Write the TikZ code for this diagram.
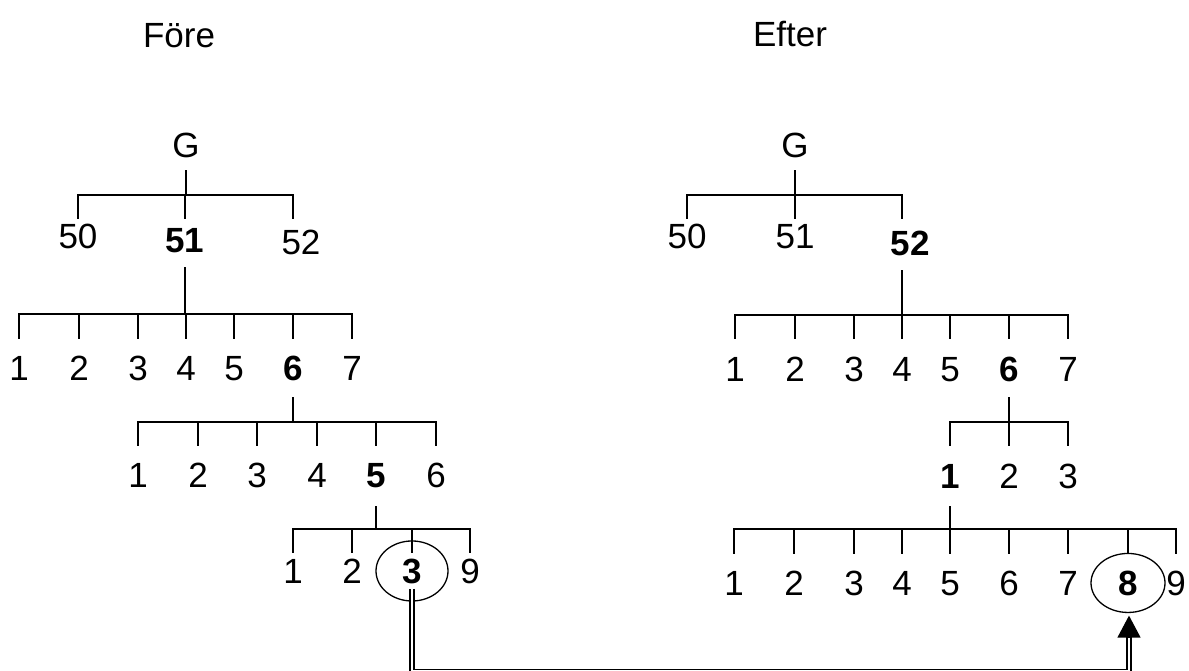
\documentclass[tikz,border=0pt]{standalone}
\usepackage{fontspec}
\setmainfont{Liberation Sans}
\usetikzlibrary{arrows.meta,shapes.geometric}

% parent, stem top, bar level, tick bottom, list of children
\newcommand\treebranch[5]{%
  \foreach \c in {#5}{%
    \draw[tree] (#1 |- 0,#2) -- (#1 |- 0,#3) -| (\c |- 0,#4);}}

\begin{document}
\begin{tikzpicture}[x=1pt,y=-1pt,
  lbl/.style={anchor=base, inner sep=0pt, font=\fontsize{35}{40}\selectfont},
  bl/.style={lbl, font=\fontsize{35}{40}\selectfont\bfseries},
  tree/.style={line width=1.8pt, line cap=butt},
  ring/.style={draw, ellipse, line width=1.3pt, inner sep=0pt,
               minimum width=72pt, minimum height=60pt},
  dbl/.style={draw, line width=1.3pt, double, double distance=2.7pt}]
\useasboundingbox (0,0) rectangle (1189,670);

% ---------- left tree ----------
\node[lbl] (fore) at (179,47) {Före};
\node[lbl] (LG) at (186,157) {G};
\node[lbl] (L50) at (78,248) {50};
\node[bl]  (L51) at (185,252) {51};
\node[lbl] (L52) at (301,254) {52};
\coordinate (L52s) at (293,254);
\treebranch{LG}{170}{195}{219}{L50,L51,L52s}

\foreach \n/\x in {1/19,2/79,3/138,4/186,5/234,7/352}
  \node[lbl] (La\n) at (\x,380) {\n};
\node[bl] (La6) at (293,380) {6};
\treebranch{L51}{267}{314}{339}{La1,La2,La3,La4,La5,La6,La7}

\foreach \n/\x in {1/138,2/198,3/257,4/317,6/436}
  \node[lbl] (Lb\n) at (\x,487) {\n};
\node[bl] (Lb5) at (376,487) {5};
\treebranch{La6}{397}{422}{446}{Lb1,Lb2,Lb3,Lb4,Lb5,Lb6}

\node[lbl] (Lc1) at (293,583) {1};
\node[lbl] (Lc2) at (352,583) {2};
\node[bl]  (Lc3) at (412,583) {3};
\node[lbl] (Lc9) at (470,583) {9};
\treebranch{Lb5}{506}{529}{553}{Lc1,Lc2,Lc3,Lc9}
\node[ring] (E3) at (Lc3.center) {};

% ---------- right tree ----------
\node[lbl] (efter) at (790,46) {Efter};
\node[lbl] (RG) at (795,157) {G};
\node[lbl] (R50) at (687,248) {50};
\node[lbl] (R51) at (795,248) {51};
\node[bl]  (R52) at (910,255) {52};
\coordinate (R52s) at (902,255);
\treebranch{RG}{170}{195}{219}{R50,R51,R52s}

\foreach \n/\x in {1/735,2/795,3/854,4/902,5/950,7/1068}
  \node[lbl] (Ra\n) at (\x,381) {\n};
\node[bl] (Ra6) at (1009,381) {6};
\treebranch{R52s}{270}{315}{339}{Ra1,Ra2,Ra3,Ra4,Ra5,Ra6,Ra7}

\node[bl]  (Rb1) at (950,488) {1};
\node[lbl] (Rb2) at (1009,488) {2};
\node[lbl] (Rb3) at (1068,488) {3};
\treebranch{Ra6}{397}{422}{446}{Rb1,Rb2,Rb3}

\foreach \n/\x in {1/734,2/794,3/854,4/902,5/950,6/1009,7/1068,9/1176}
  \node[lbl] (Rc\n) at (\x,595) {\n};
\node[bl] (Rc8) at (1128,595) {8};
\treebranch{Rb1}{506}{529}{554}{Rc1,Rc2,Rc3,Rc4,Rc5,Rc6,Rc7,Rc8,Rc9}
\node[ring, minimum width=74pt, minimum height=59pt] (E8) at (Rc8.center) {};

% ---------- move connector ----------
\draw[dbl] ([yshift=-18pt]E3.center) -- (E3.center |- 0,671.5)
  -| ([xshift=1pt,yshift=-23pt]E8.south);
\draw[line width=1.3pt, -{Triangle[length=22pt, width=23pt]}]
  ([xshift=1pt,yshift=-24pt]E8.south) -- ([xshift=1pt,yshift=-2.5pt]E8.south);
\end{tikzpicture}
\end{document}
